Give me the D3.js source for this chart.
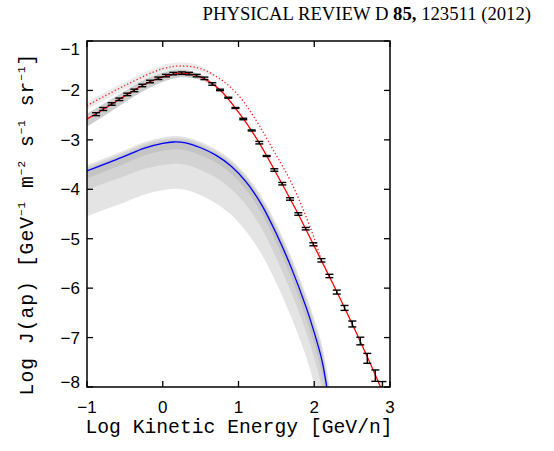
<!DOCTYPE html>
<html><head><meta charset="utf-8">
<script src="https://cdn.jsdelivr.net/npm/d3@7"></script>
<style>body{margin:0;background:#fff}</style>
</head><body><svg id="c" width="554" height="451"></svg>
<script>
// ---------- data ----------
const xTicks = [-1, 0, 1, 2, 3];
const yTicks = [-1, -2, -3, -4, -5, -6, -7, -8];

// measured antiproton points
const dataX = [-0.88,-0.785,-0.674,-0.573,-0.468,-0.375,-0.27,-0.168,-0.058,0.043,0.14,0.25,0.347,0.448,0.55,0.654,0.756,0.865,0.96,1.063,1.174,1.275,1.372,1.473,1.578,1.68,1.79,1.887,1.988,2.094,2.2,2.297,2.4,2.502,2.608,2.70,2.806,2.9];
const dataY = [-2.48,-2.376,-2.274,-2.18,-2.08,-2.0,-1.90,-1.82,-1.755,-1.70,-1.66,-1.65,-1.66,-1.70,-1.755,-1.87,-1.99,-2.147,-2.355,-2.578,-2.81,-3.057,-3.327,-3.61,-3.887,-4.196,-4.50,-4.797,-5.113,-5.437,-5.754,-6.08,-6.40,-6.725,-7.07,-7.42,-7.77,-8.02];
const dataErr = [0.03,0.03,0.025,0.025,0.025,0.025,0.025,0.025,0.025,0.025,0.025,0.025,0.025,0.025,0.025,0.025,0.015,0.01,0.01,0.015,0.01,0.025,0.01,0.025,0.025,0.025,0.025,0.025,0.03,0.034,0.034,0.04,0.05,0.06,0.077,0.1,0.115,0.13];

// red solid (background prediction)
const redX = [-1,-0.75,-0.5,-0.25,0,0.25,0.5,0.75,1.0,1.25,1.5,1.75,2.0,2.25,2.5,2.75,3.0];
const redY = [-2.58,-2.35,-2.11,-1.885,-1.725,-1.648,-1.73,-1.98,-2.44,-3.0,-3.68,-4.39,-5.15,-5.92,-6.72,-7.56,-8.45];

// red dotted
const dotX = [-1,-0.5,0,0.25,0.5,0.75,1.0,1.25,1.459,1.702,1.944,2.08];
const dotY = [-2.31,-1.90,-1.56,-1.506,-1.56,-1.76,-2.10,-2.65,-3.205,-3.879,-4.757,-5.36];

// blue solid (signal) and its bands
const blueX = [-1,-0.75,-0.5,-0.25,0,0.14,0.3,0.5,0.7,0.9,1.1,1.3,1.5,1.7,1.9,2.0,2.1,2.16,2.2];
const blueY = [-3.63,-3.48,-3.33,-3.17,-3.07,-3.043,-3.06,-3.16,-3.31,-3.53,-3.85,-4.30,-4.90,-5.60,-6.42,-6.90,-7.45,-7.95,-8.35];
const bandCTop = [-3.51,-3.36,-3.21,-3.05,-2.95,-2.923,-2.94,-3.04,-3.19,-3.40,-3.71,-4.14,-4.70,-5.38,-6.17,-6.62,-7.13,-7.60,-7.95];
const bandCBot = [-4.55,-4.40,-4.26,-4.11,-4.02,-3.99,-4.01,-4.12,-4.28,-4.51,-4.85,-5.30,-5.90,-6.60,-7.42,-7.95,-8.55,-9.10,-9.55];
const bandBTop = [-3.55,-3.40,-3.25,-3.09,-2.99,-2.963,-2.98,-3.08,-3.23,-3.44,-3.75,-4.18,-4.76,-5.44,-6.24,-6.70,-7.23,-7.72,-8.09];
const bandBBot = [-4.01,-3.87,-3.73,-3.59,-3.51,-3.483,-3.50,-3.61,-3.76,-3.99,-4.32,-4.78,-5.40,-6.10,-6.92,-7.42,-8.00,-8.55,-8.95];
const bandATop = [-3.59,-3.44,-3.29,-3.13,-3.03,-3.003,-3.02,-3.12,-3.27,-3.48,-3.79,-4.23,-4.82,-5.51,-6.32,-6.79,-7.32,-7.81,-8.20];
const bandABot = [-3.78,-3.63,-3.48,-3.32,-3.22,-3.193,-3.21,-3.31,-3.46,-3.68,-4.01,-4.47,-5.08,-5.80,-6.64,-7.13,-7.69,-8.20,-8.60];

// grey bands around red curves
const redBandX = [-1,-0.75,-0.5,-0.25,0,0.25,0.5,0.65,0.8];
const redBandTop = [-2.47,-2.245,-2.01,-1.79,-1.64,-1.575,-1.68,-1.84,-2.05];
const redBandBot = [-2.73,-2.49,-2.24,-2.005,-1.83,-1.735,-1.79,-1.895,-2.05];
const dotBandX = [-1,-0.5,0,0.25,0.5,0.7];
const dotBandTop = [-2.24,-1.83,-1.49,-1.436,-1.50,-1.70];
const dotBandBot = [-2.39,-1.98,-1.64,-1.586,-1.62,-1.74];

// ---------- drawing ----------
const svg = d3.select('#c');
svg.append('rect').attr('width',554).attr('height',451).attr('fill','#fff');
const L = 87, R = 390, T = 41, B = 387;
const x = d3.scaleLinear().domain([-1,3]).range([L,R]);
const y = d3.scaleLinear().domain([-8,-1]).range([B,T]);

svg.append('defs').append('clipPath').attr('id','clip')
  .append('rect').attr('x',L).attr('y',T).attr('width',R-L).attr('height',B-T);
const g = svg.append('g').attr('clip-path','url(#clip)');

const curve = d3.curveCatmullRom.alpha(0.5);
function band(xs, top, bot, fill){
  const d = xs.map((v,i)=>({x:v,t:top[i],b:bot[i]}));
  g.append('path').datum(d)
   .attr('d', d3.area().x(p=>x(p.x)).y0(p=>y(p.b)).y1(p=>y(p.t)).curve(curve))
   .attr('fill', fill).attr('stroke','none');
}
function line(xs, ys, color, w, dash){
  const d = xs.map((v,i)=>[v,ys[i]]);
  const p = g.append('path').datum(d)
   .attr('d', d3.line().x(p=>x(p[0])).y(p=>y(p[1])).curve(curve))
   .attr('fill','none').attr('stroke',color).attr('stroke-width',w);
  if (dash) p.attr('stroke-dasharray',dash);
}

band(blueX, bandCTop, bandCBot, '#e4e4e4');
band(blueX, bandBTop, bandBBot, '#d3d3d3');
band(blueX, bandATop, bandABot, '#c4c4c4');
band(dotBandX, dotBandTop, dotBandBot, '#ececec');
band(redBandX, redBandTop, redBandBot, '#cdcdcd');

line(blueX, blueY, '#0000ff', 1.3);
line(dotX, dotY, '#ff2020', 1.3, '1.3,2.2');
line(redX, redY, '#ff0000', 1.3);

// error bars
const pts = dataX.map((v,i)=>({x:v,y:dataY[i],e:dataErr[i]}));
const cap = 4;
const eb = g.append('g').attr('stroke','#000').attr('stroke-width',1.4).attr('fill','none');
pts.forEach(p=>{
  const xp = x(p.x), y1 = y(p.y+p.e), y2 = y(p.y-p.e);
  eb.append('line').attr('x1',xp).attr('x2',xp).attr('y1',y1).attr('y2',y2);
  eb.append('line').attr('x1',xp-cap).attr('x2',xp+cap).attr('y1',y1).attr('y2',y1);
  eb.append('line').attr('x1',xp-cap).attr('x2',xp+cap).attr('y1',y2).attr('y2',y2);
});

// frame & ticks
const axG = svg.append('g').attr('stroke','#000').attr('fill','none');
axG.append('rect').attr('x',L).attr('y',T).attr('width',R-L).attr('height',B-T).attr('stroke-width',1.5);
const tl = 6;
xTicks.forEach(v=>{
  axG.append('line').attr('x1',x(v)).attr('x2',x(v)).attr('y1',B).attr('y2',B-tl).attr('stroke-width',1.3);
  axG.append('line').attr('x1',x(v)).attr('x2',x(v)).attr('y1',T).attr('y2',T+tl).attr('stroke-width',1.3);
});
yTicks.forEach(v=>{
  axG.append('line').attr('x1',L).attr('x2',L+tl).attr('y1',y(v)).attr('y2',y(v)).attr('stroke-width',1.3);
  axG.append('line').attr('x1',R).attr('x2',R-tl).attr('y1',y(v)).attr('y2',y(v)).attr('stroke-width',1.3);
});

// tick labels
const tickFont = 'Liberation Sans, Arial, sans-serif';
const fmt = v => (v<0 ? '\u2212' : '') + Math.abs(v);
svg.append('g').selectAll('text').data(xTicks).join('text')
  .attr('x', d=>x(d)).attr('y', 413).attr('text-anchor','middle')
  .attr('font-family',tickFont).attr('font-size',17).attr('fill','#000').text(fmt);
svg.append('g').selectAll('text').data(yTicks).join('text')
  .attr('x', 80).attr('y', d=>Math.max(55, Math.min(388, y(d)+6))).attr('text-anchor','end')
  .attr('font-family',tickFont).attr('font-size',17).attr('fill','#000').text(fmt);

// axis titles
const titleFont = 'Liberation Mono, Courier New, monospace';
svg.append('text').attr('x', 239).attr('y', 433).attr('text-anchor','middle')
  .attr('font-family',titleFont).attr('font-size',19.7).attr('fill','#000')
  .text('Log Kinetic Energy [GeV/n]');

const yt = svg.append('text').attr('transform','translate(33,224) rotate(-90)')
  .attr('text-anchor','middle').attr('font-family',titleFont).attr('font-size',19.7)
  .attr('letter-spacing',1).attr('fill','#000');
const parts = [['Log J(ap) [GeV',0],['\u22121',1],[' m',0],['\u22122',1],[' s',0],['\u22121',1],[' sr',0],['\u22121',1],[']',0]];
let prevSup = false;
parts.forEach(([t,s])=>{
  const ts = yt.append('tspan').text(t);
  if (s){ ts.attr('font-size',11).attr('dy',-8); prevSup = true; }
  else if (prevSup){ ts.attr('dy',8); prevSup = false; }
});

// header
const hd = svg.append('text').attr('x',531).attr('y',20).attr('text-anchor','end')
  .attr('font-family','Liberation Serif, Times New Roman, serif').attr('font-size',18.7).attr('fill','#000');
hd.append('tspan').text('PHYSICAL REVIEW D ');
hd.append('tspan').attr('font-weight','bold').text('85,');
hd.append('tspan').text(' 123511 (2012)');
</script></body></html>
